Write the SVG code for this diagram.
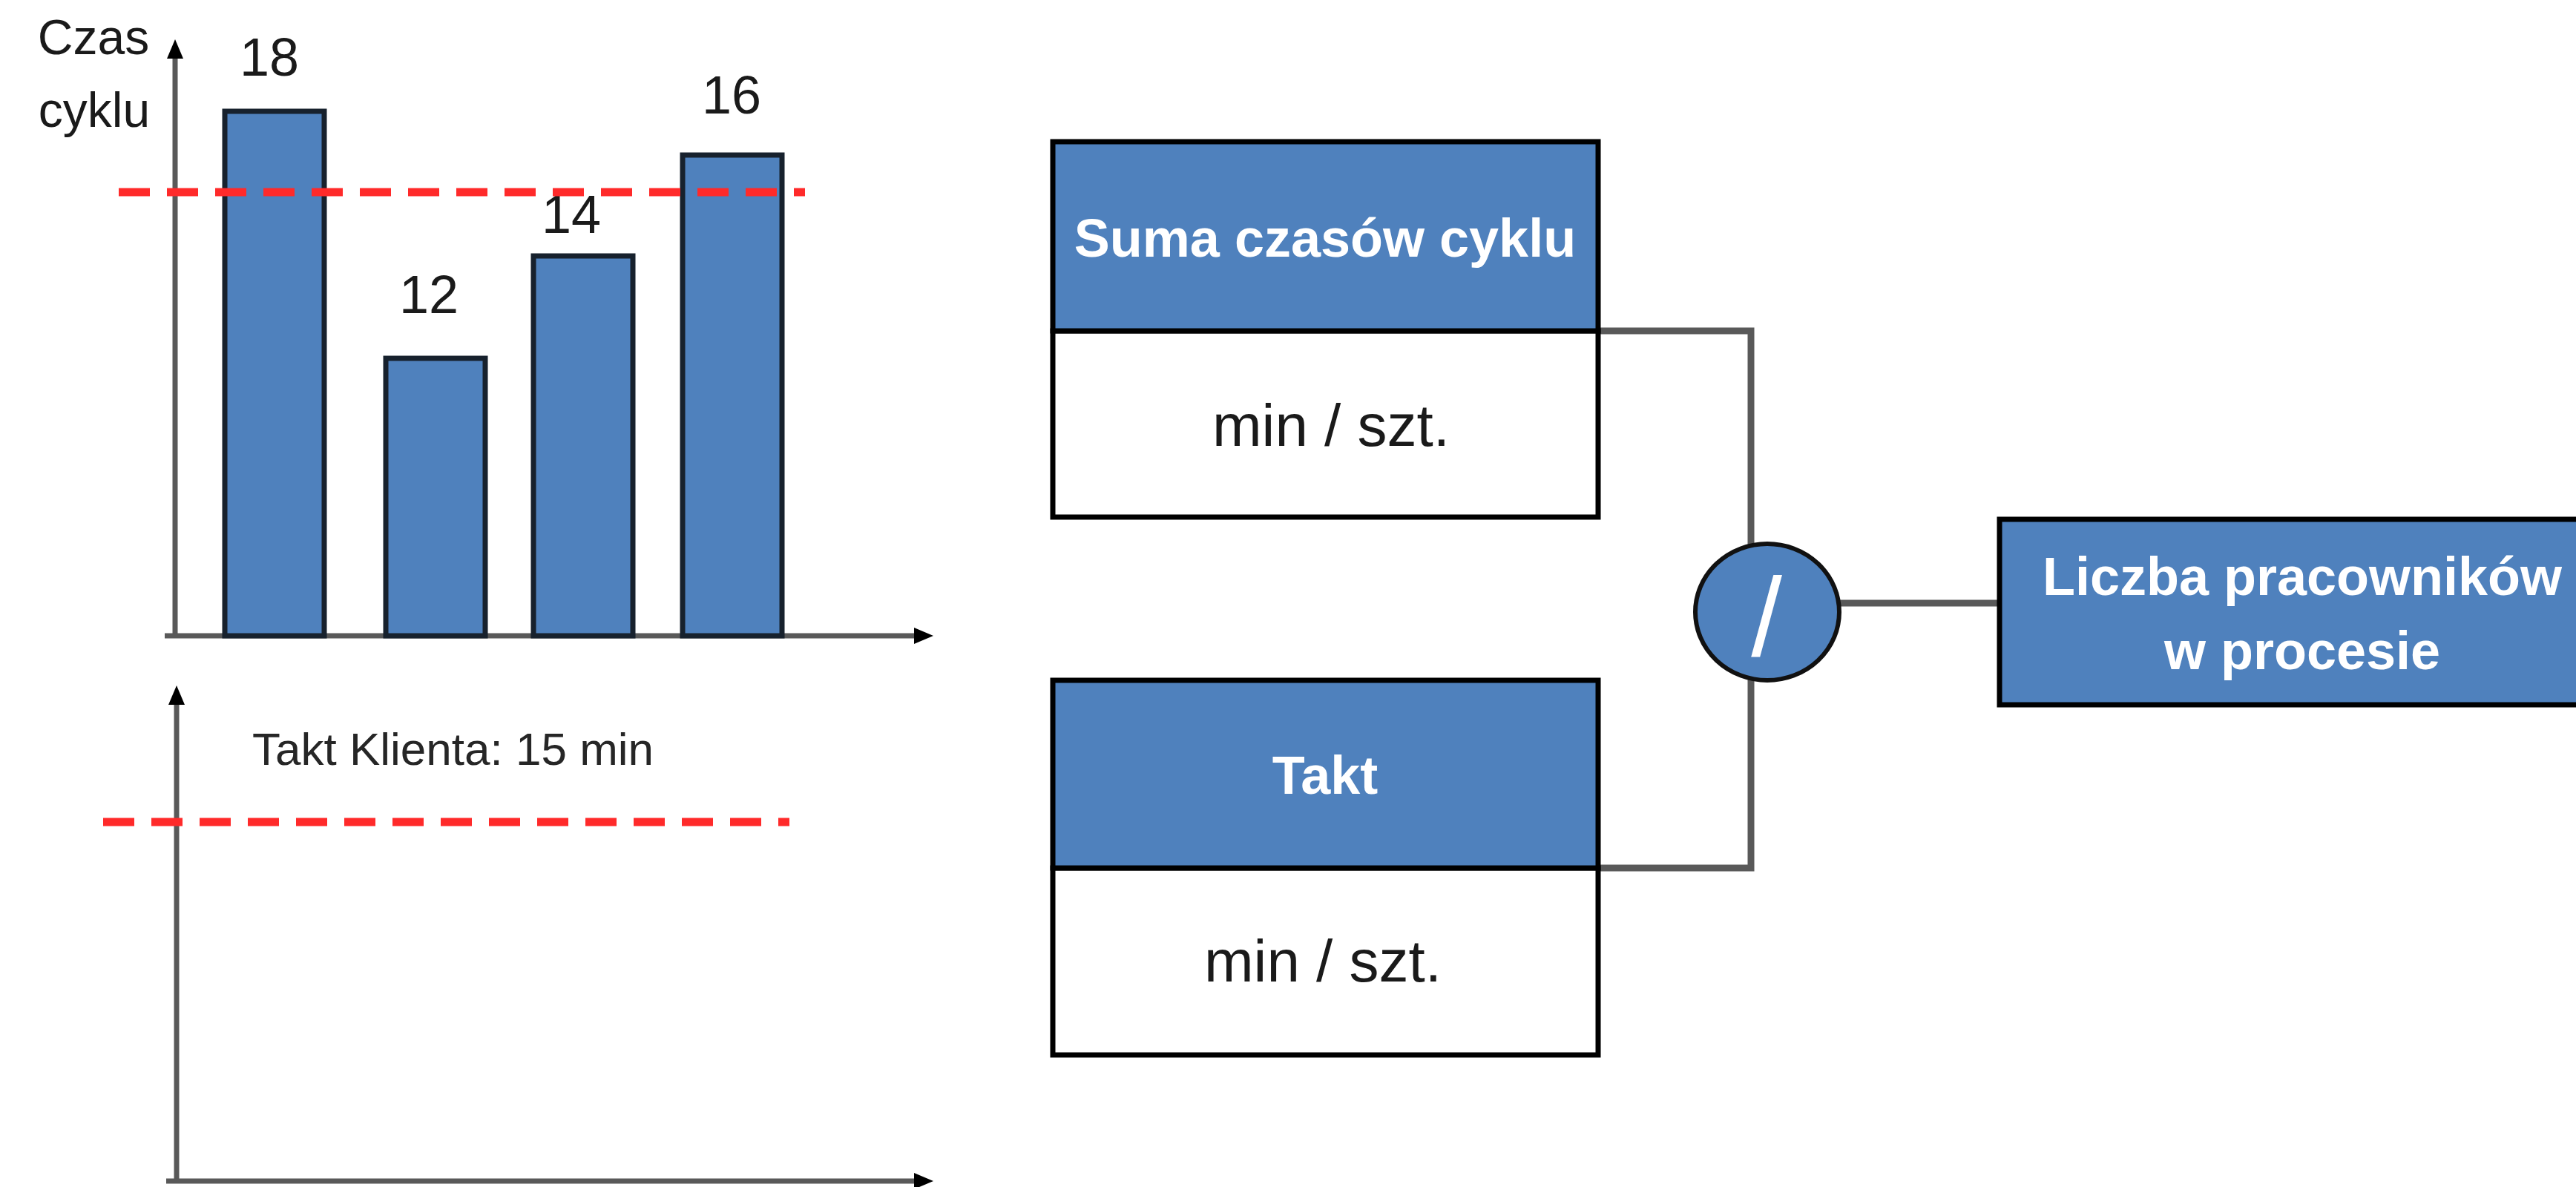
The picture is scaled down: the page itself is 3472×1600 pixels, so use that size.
<svg xmlns="http://www.w3.org/2000/svg" width="3472" height="1600" viewBox="0 0 3472 1600">
<style>
.axis{stroke:#595959;stroke-width:7;fill:none}
.bar{fill:#4F81BD;stroke:#17212d;stroke-width:7}
.num{font-family:"Liberation Sans",Arial,sans-serif;font-size:72px;fill:#1a1a1a;text-anchor:middle}
.lbl{font-family:"Liberation Sans",Arial,sans-serif;font-size:66px;fill:#1a1a1a;text-anchor:middle}
.takt{stroke:#ff2a2a;stroke-width:11;stroke-dasharray:42 23;fill:none}
.head{fill:#4F81BD;stroke:#000;stroke-width:7}
.body{fill:#fff;stroke:#000;stroke-width:7}
.ht{font-family:"Liberation Sans",Arial,sans-serif;font-weight:bold;font-size:72px;fill:#fff;text-anchor:middle}
.bt{font-family:"Liberation Sans",Arial,sans-serif;font-size:80px;fill:#1a1a1a;text-anchor:middle}
.conn{stroke:#595959;stroke-width:9;fill:none}
</style>
<defs>
<marker id="arr" markerUnits="userSpaceOnUse" markerWidth="26" markerHeight="22" refX="8" refY="11" orient="auto">
<path d="M0,0 L26,11 L0,22 z" fill="#000"/>
</marker>
</defs>
<rect width="3472" height="1600" fill="#fff"/>

<g id="chart-cycle">
<line class="axis" x1="236" y1="857" x2="236" y2="71" marker-end="url(#arr)"/>
<line class="axis" x1="222" y1="857" x2="1240" y2="857" marker-end="url(#arr)"/>
<rect class="bar" x="303" y="150" width="134" height="707"/>
<rect class="bar" x="520" y="483" width="134" height="374"/>
<rect class="bar" x="719" y="345" width="134" height="512"/>
<rect class="bar" x="920" y="209" width="134" height="648"/>
<text class="num" x="363" y="102">18</text>
<text class="num" x="578" y="422">12</text>
<text class="num" x="770" y="314">14</text>
<text class="num" x="986" y="153">16</text>
<text class="lbl" x="126" y="73">Czas</text>
<text class="lbl" x="127" y="171">cyklu</text>
<line class="takt" x1="160" y1="259" x2="1085" y2="259"/>
</g>

<g id="chart-takt">
<line class="axis" x1="238" y1="1592" x2="238" y2="942" marker-end="url(#arr)"/>
<line class="axis" x1="224" y1="1592" x2="1240" y2="1592" marker-end="url(#arr)"/>
<text x="340" y="1031" font-family="Liberation Sans, Arial, sans-serif" font-size="62" fill="#262626">Takt Klienta: 15 min</text>
<line class="takt" x1="139" y1="1108" x2="1064" y2="1108"/>
</g>

<g id="connectors">
<polyline class="conn" points="2154,446 2360,446 2360,737"/>
<polyline class="conn" points="2154,1170 2360,1170 2360,915"/>
<line class="conn" x1="2478" y1="813" x2="2695" y2="813"/>
</g>

<g id="node-suma">
<rect class="body" x="1419" y="446" width="735" height="251"/>
<rect class="head" x="1419" y="191" width="735" height="255"/>
<text class="ht" x="1786" y="346">Suma czasów cyklu</text>
<text class="bt" x="1794" y="601">min / szt.</text>
</g>

<g id="node-takt">
<rect class="body" x="1419" y="1170" width="735" height="252"/>
<rect class="head" x="1419" y="917" width="735" height="253"/>
<text class="ht" x="1786" y="1070">Takt</text>
<text class="bt" x="1783" y="1323">min / szt.</text>
</g>

<g id="node-divide">
<ellipse cx="2382" cy="825" rx="97" ry="92" fill="#4F81BD" stroke="#111" stroke-width="6"/>
<text x="2381" y="884" font-family="Liberation Sans, Arial, sans-serif" font-size="150" fill="#fff" text-anchor="middle">/</text>
</g>

<g id="node-liczba">
<rect class="head" x="2695" y="700" width="830" height="250"/>
<text class="ht" x="3103" y="802">Liczba pracowników</text>
<text class="ht" x="3103" y="902">w procesie</text>
</g>
</svg>
